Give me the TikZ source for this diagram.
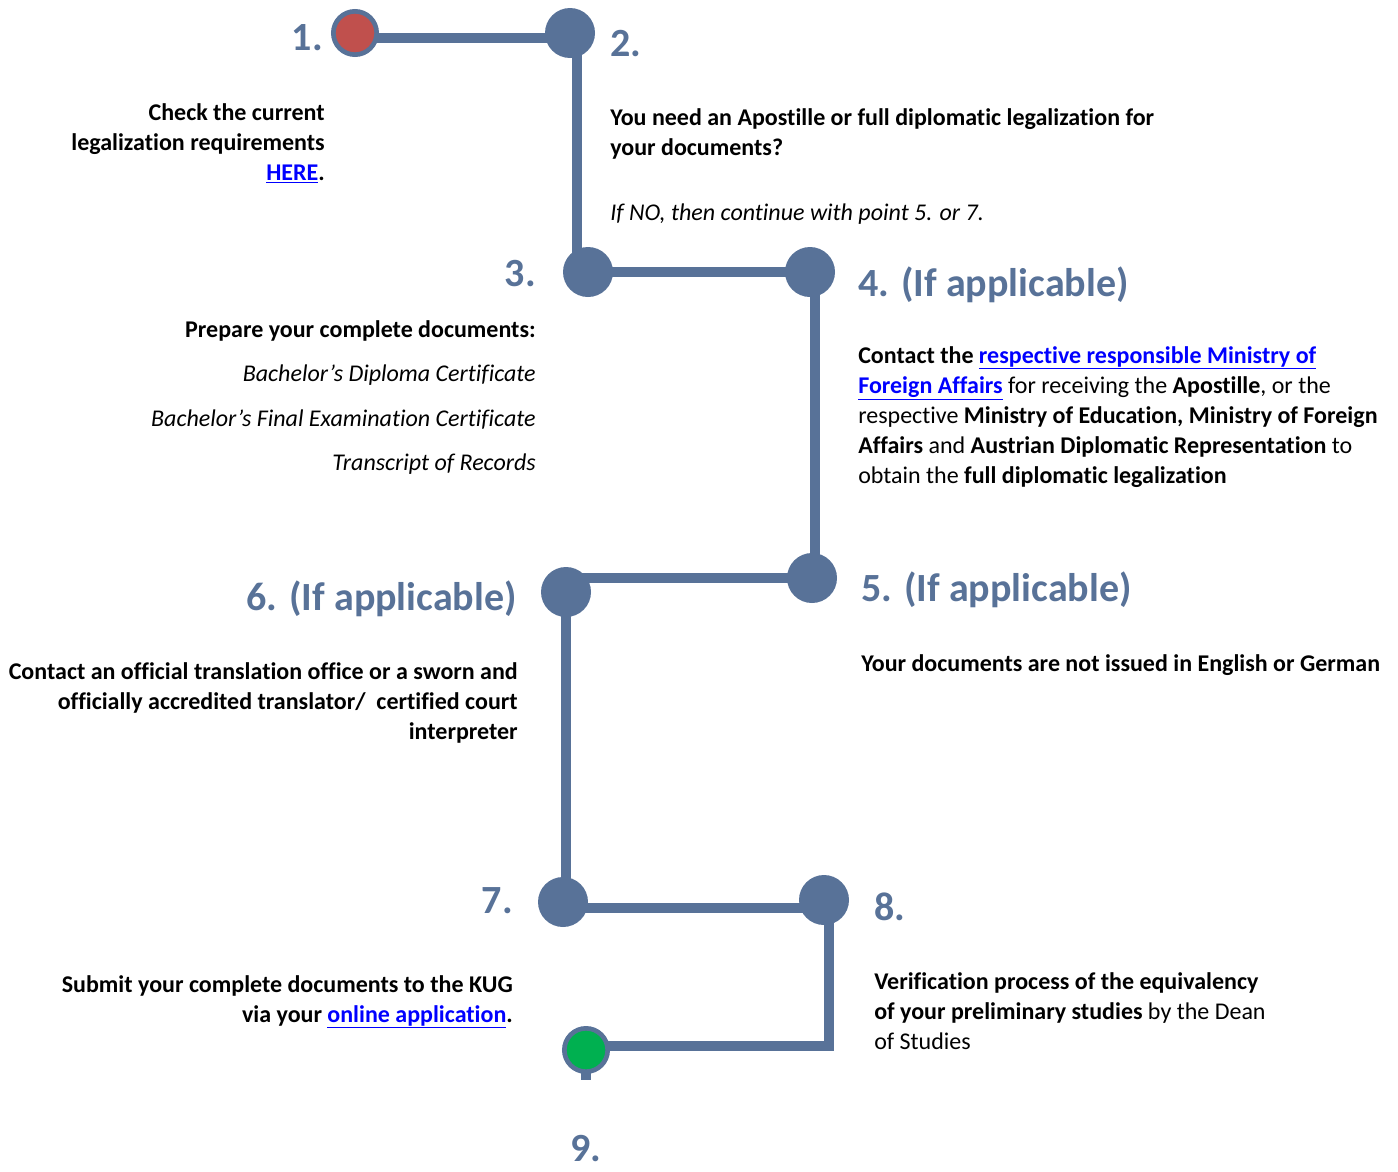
\documentclass[tikz,border=0pt]{standalone}
\usepackage{fontspec}
\setmainfont[Ligatures=NoCommon]{Carlito}
\usetikzlibrary{backgrounds}
\definecolor{flowblue}{RGB}{88,114,152}
\definecolor{startred}{RGB}{192,80,77}
\definecolor{endgreen}{RGB}{0,176,80}
\definecolor{linkblue}{RGB}{0,0,255}
\newcommand{\weblink}[1]{\textcolor{linkblue}{\underline{#1}}}
\tikzset{stepdot/.style={circle,fill=flowblue,minimum size=37.5pt,inner sep=0pt},
         enddot/.style={circle,draw=flowblue,line width=3.5pt,minimum size=32.5pt,inner sep=0pt},
         flowline/.style={flowblue,line width=7.5pt},
         steplabel/.style={text=flowblue,font=\fontsize{30}{36}\selectfont\bfseries,inner sep=0pt},
         bodytext/.style={font=\fontsize{18}{22.5}\selectfont,inner sep=0pt}}

\begin{document}
\begin{tikzpicture}[x=0.75pt,y=-0.75pt]
        \useasboundingbox (0,0) rectangle (1398,1171);
        % step markers
        \node[enddot,fill=startred](s1)at(355,33){};
        \node[stepdot](s2)at(570,33){};
        \node[stepdot](s3)at(588,272){};
        \node[stepdot](s4)at(810,272){};
        \node[stepdot](s5)at(812,578){};
        \node[stepdot](s6)at(566,592){};
        \node[stepdot](s7)at(563,902){};
        \node[stepdot](s8)at(824,900){};
        \node[enddot,fill=endgreen](s9)at(586,1050){};
        \coordinate(s9tail)at(586,1080);
        \begin{scope}[on background layer]
        \draw[flowline]([yshift=-3.75pt]s1.center)--([yshift=-3.75pt]s2.center);
        \draw[flowline]([xshift=5.25pt]s2.center)|-(s3.center);
        \draw[flowline](s3.center)-|(s4.center);
        \draw[flowline]([xshift=3.75pt]s4.center)|-(s5.center);
        \draw[flowline](s5.center)-|(s6.center);
        \draw[flowline](s6.center)|-(s7.center);
        \draw[flowline]([yshift=-4.5pt]s7.center)-|(s8.center);
        \draw[flowline]([xshift=3.75pt]s8.center)|-([yshift=3pt]s9.center);
        \draw[flowline](s9.center)--(s9tail);
        \end{scope}
        % step numbers
        \node[steplabel,anchor=base east](n1)at(323,50){1.};
        \node[steplabel,anchor=base west](n2)at(610,56){2.};
        \node[steplabel,anchor=base east](n3)at(536,286){3.};
        \node[steplabel,anchor=base west](n4)at(858,296){4. (If applicable)};
        \node[steplabel,anchor=base west](n5)at(861,601){5. (If applicable)};
        \node[steplabel,anchor=base east](n6)at(517,610){6. (If applicable)};
        \node[steplabel,anchor=base east](n7)at(513,913){7.};
        \node[steplabel,anchor=base west](n8)at(874,920){8.};
        \node[steplabel,anchor=base](n9)at(586,1161){9.};
        % descriptions (base = last line)
        \node[bodytext,align=right,anchor=base east](t1)at(325,180)
            {\bfseries Check the current\\ \bfseries legalization requirements\\ \bfseries\weblink{HERE}.};
        \node[bodytext,align=left,anchor=base west](t2)at(610,155)
            {\bfseries You need an Apostille or full diplomatic legalization for\\ \bfseries your documents?};
        \node[bodytext,anchor=base west](t2b)at(610,220){\itshape If NO, then continue with point 5. or 7.};
        \node[bodytext,align=right,anchor=base east](t3)at(536,337)
            {\bfseries Prepare your complete documents:};
        \node[bodytext,anchor=base east](t3a)at(536,381){\itshape Bachelor’s Diploma Certificate};
        \node[bodytext,anchor=base east](t3b)at(536,426){\itshape Bachelor’s Final Examination Certificate};
        \node[bodytext,anchor=base east](t3c)at(536,470){\itshape Transcript of Records};
        \node[bodytext,align=left,anchor=base west](t4)at(858,483)
            {\textbf{Contact the \weblink{respective responsible Ministry of}}\\
             \textbf{\weblink{Foreign Affairs}} for receiving the \textbf{Apostille}, or the\\
             respective \textbf{Ministry of Education, Ministry of Foreign}\\
             \textbf{Affairs} and \textbf{Austrian Diplomatic Representation} to\\
             obtain the \textbf{full diplomatic legalization}};
        \node[bodytext,anchor=base west](t5)at(861,671){\bfseries Your documents are not issued in English or German};
        \node[bodytext,align=right,anchor=base east](t6)at(518,739)
            {\bfseries Contact an official translation office or a sworn and\\
             \bfseries officially accredited translator/\ \ certified court\\
             \bfseries interpreter};
        \node[bodytext,align=right,anchor=base east](t7)at(513,1022)
            {\bfseries Submit your complete documents to the KUG\\
             \bfseries via your \weblink{online application}.};
        \node[bodytext,align=left,anchor=base west](t8)at(874,1049)
            {\textbf{Verification process of the equivalency}\\
             \textbf{of your preliminary studies} by the Dean\\
             of Studies};
    \end{tikzpicture}
\end{document}
